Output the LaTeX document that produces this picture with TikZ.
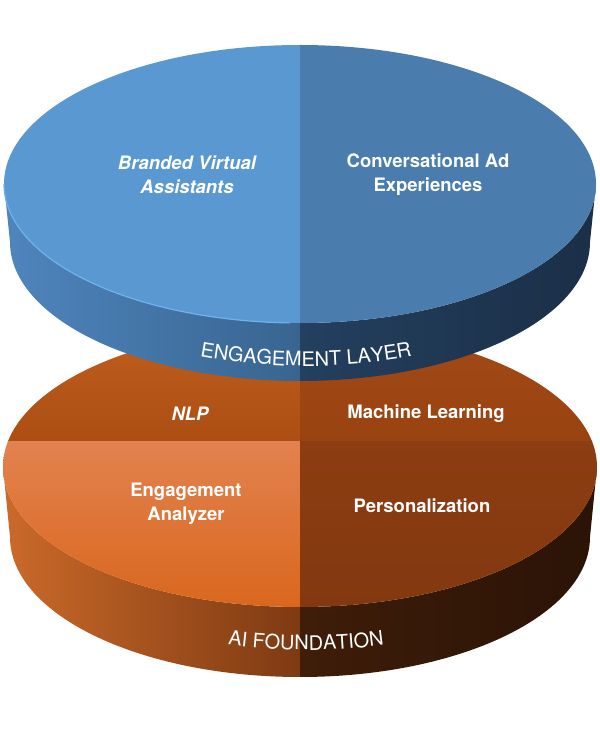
\documentclass[tikz,border=0pt]{standalone}
\usepackage{fontspec}
\setmainfont{TeX Gyre Heros}
\usetikzlibrary{decorations.text}
\definecolor{bfaceL}{HTML}{5A98D2}
\definecolor{bfaceR}{HTML}{4A7DAD}
\definecolor{bsideA}{HTML}{4F85BE}
\definecolor{bsideB}{HTML}{386590}
\definecolor{bsideC}{HTML}{23405F}
\definecolor{bsideD}{HTML}{1B2E46}
\definecolor{brim}{HTML}{70B2EE}
\definecolor{ofaceA}{HTML}{C0601F}
\definecolor{ofaceB}{HTML}{AC4E13}
\definecolor{ofaceC}{HTML}{A34A17}
\definecolor{ofaceD}{HTML}{994311}
\definecolor{ofaceE}{HTML}{E2824F}
\definecolor{ofaceF}{HTML}{D9661C}
\definecolor{ofaceG}{HTML}{8C3D12}
\definecolor{ofaceH}{HTML}{83380F}
\definecolor{osideA}{HTML}{CC6A2A}
\definecolor{osideB}{HTML}{7E3A12}
\definecolor{osideC}{HTML}{3F1D09}
\definecolor{osideD}{HTML}{2A1306}
\tikzset{lbl/.style={text=white,font=\bfseries\fontsize{18.5}{24}\selectfont,align=center}}

\begin{document}
\begin{tikzpicture}[x=1pt,y=1pt]
\useasboundingbox (0,0) rectangle (600,732);
% orange disk
\coordinate (ot) at (300,265);
\coordinate (ob) at (300,195);
\begin{scope}
\clip (3,265) -- (10,195) arc[start angle=180,end angle=360,x radius=290,y radius=140]
  -- (597,265) arc[start angle=0,end angle=-180,x radius=297,y radius=140] -- cycle;
\shade[left color=osideA,right color=osideB] (0,40) rectangle (300,280);
\shade[left color=osideC,right color=osideD] (300,40) rectangle (600,280);
\end{scope}
\begin{scope}
\clip (ot) ellipse[x radius=297,y radius=140];
\shade[top color=ofaceA,bottom color=ofaceB] (0,290) rectangle (300,410);
\shade[top color=ofaceC,bottom color=ofaceD] (300,290) rectangle (600,410);
\shade[top color=ofaceE,bottom color=ofaceF] (0,120) rectangle (300,290);
\shade[top color=ofaceG,bottom color=ofaceH] (300,120) rectangle (600,290);
\end{scope}
% blue disk
\coordinate (bt) at (300,548);
\coordinate (bb) at (300,490);
\begin{scope}
\clip (4,548) -- (10,490) arc[start angle=180,end angle=360,x radius=290,y radius=139]
  -- (596,548) arc[start angle=0,end angle=-180,x radius=296,y radius=139] -- cycle;
\shade[left color=bsideA,right color=bsideB] (0,340) rectangle (300,560);
\shade[left color=bsideC,right color=bsideD] (300,340) rectangle (600,560);
\end{scope}
\begin{scope}
\clip (bt) ellipse[x radius=296,y radius=139];
\fill[bfaceL] (0,400) rectangle (300,700);
\fill[bfaceR] (300,400) rectangle (600,700);
\end{scope}
\draw[brim,line width=1.2pt] (4,548) arc[start angle=180,end angle=268,x radius=296,y radius=139];
% labels
\node[lbl] (bva) at (187,557) {\itshape Branded Virtual\\\itshape Assistants};
\node[lbl] (cae) at (428,557) {Conversational Ad\\Experiences};
\node[lbl] (nlp) at (190,318) {\itshape NLP};
\node[lbl] (ml) at (426,318) {Machine Learning};
\node[lbl] (ea) at (186,228) {Engagement\\Analyzer};
\node[lbl] (pers) at (422,226) {Personalization};
\path[decorate,decoration={text along path,text align=center,text color=white,
  text={|\fontsize{20}{20}\selectfont|ENGAGEMENT LAYER}}]
  (306,505) ++(200:290 and 139) arc[start angle=200,end angle=340,x radius=290,y radius=139];
\path[decorate,decoration={text along path,text align=center,text color=white,
  text={|\fontsize{20}{20}\selectfont|AI FOUNDATION}}]
  (306,222) ++(205:290 and 140) arc[start angle=205,end angle=335,x radius=290,y radius=140];
\end{tikzpicture}
\end{document}
